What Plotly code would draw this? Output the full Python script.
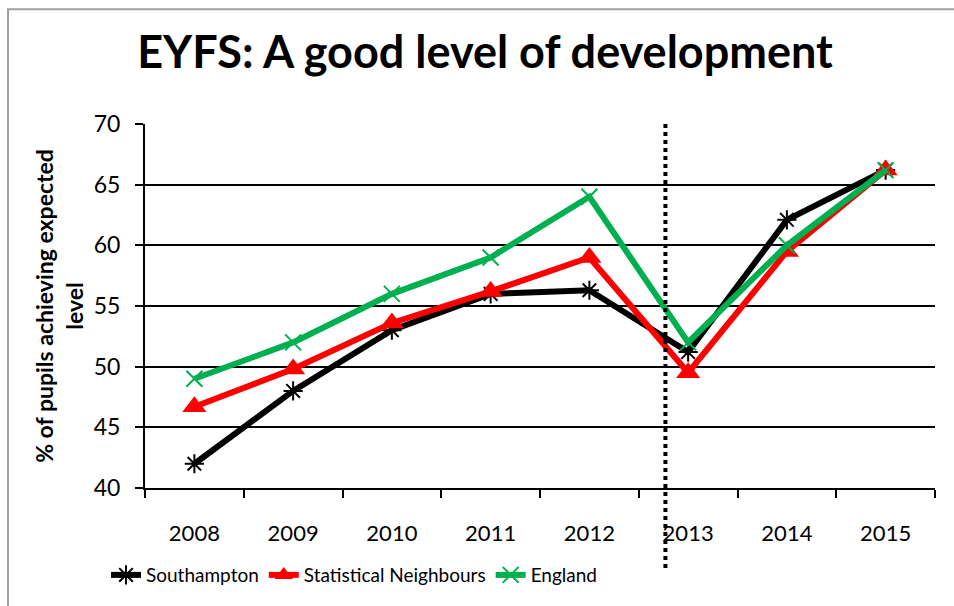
import plotly.graph_objects as go

years = ["2008", "2009", "2010", "2011", "2012", "2013", "2014", "2015"]
southampton = [42.0, 48.0, 53.0, 56.0, 56.3, 51.2, 62.1, 66.2]
stat_neighbours = [46.7, 49.8, 53.6, 56.2, 59.0, 49.5, 59.5, 66.2]
england = [49.0, 52.0, 56.0, 59.0, 64.0, 52.0, 60.0, 66.2]

FONT = "Lato"

fig = go.Figure()
fig.add_trace(go.Scatter(
    x=years, y=southampton, name="Southampton", mode="lines+markers",
    line=dict(color="black", width=6),
    marker=dict(symbol="asterisk-open", size=16, color="black", line=dict(width=2, color="black")),
))
fig.add_trace(go.Scatter(
    x=years, y=stat_neighbours, name="Statistical Neighbours", mode="lines+markers",
    line=dict(color="#FF0000", width=6),
    marker=dict(symbol="triangle-up", size=21, color="#FF0000"),
))
fig.add_trace(go.Scatter(
    x=years, y=england, name="England", mode="lines+markers",
    line=dict(color="#00B050", width=6),
    marker=dict(symbol="x-thin-open", size=16, color="#00B050", line=dict(width=2, color="#00B050")),
))

# dotted divider between old and new EYFS framework
fig.add_shape(type="line", xref="x", yref="paper", x0=4.77, x1=4.77, y0=1, y1=-0.22,
              line=dict(color="black", width=4, dash="dot"), layer="above")
# outer chart border
fig.add_shape(type="rect", xref="paper", yref="paper",
              x0=(8 - 145) / 790, x1=(960 - 145) / 790,
              y0=(492 - 615) / 368, y1=(492 - 8) / 368,
              line=dict(color="#A0A0A0", width=2), layer="below")

fig.update_layout(
    width=954, height=606,
    margin=dict(l=145, r=19, t=124, b=114),
    paper_bgcolor="white", plot_bgcolor="white",
    font=dict(family=FONT, color="black"),
    title=dict(text="<b>EYFS: A good level of development</b>", x=485 / 954, xref="container",
               xanchor="center", y=1 - 52 / 606, yanchor="middle",
               font=dict(size=45, family=FONT, color="black")),
    showlegend=True,
    legend=dict(orientation="h", x=(106 - 145) / 790, xanchor="left",
                y=(492 - 580) / 368, yanchor="middle",
                font=dict(size=19, family=FONT, color="black"),
                bgcolor="rgba(0,0,0,0)"),
    xaxis=dict(type="category", showgrid=False, showline=True, linecolor="black", linewidth=2,
               ticks="outside", tickson="boundaries", ticklen=8, tickcolor="black", tickwidth=2,
               tickfont=dict(size=22, family=FONT, color="black"), ticklabelstandoff=25,
               range=[-0.5, 7.5], zeroline=False),
    yaxis=dict(range=[40, 70], dtick=5, showgrid=True, gridcolor="black", gridwidth=1.5,
               showline=True, linecolor="black", linewidth=2,
               ticks="outside", ticklen=8, tickcolor="black", tickwidth=2,
               tickfont=dict(size=23, family=FONT, color="black"), ticklabelstandoff=10,
               zeroline=False,
               title=dict(text="<b>% of pupils achieving expected<br>level</b>",
                          font=dict(size=23, family=FONT, color="black"), standoff=4)),
)

fig.write_html("out.html", post_script="document.body.style.margin='0';",
               config={"displayModeBar": False})
